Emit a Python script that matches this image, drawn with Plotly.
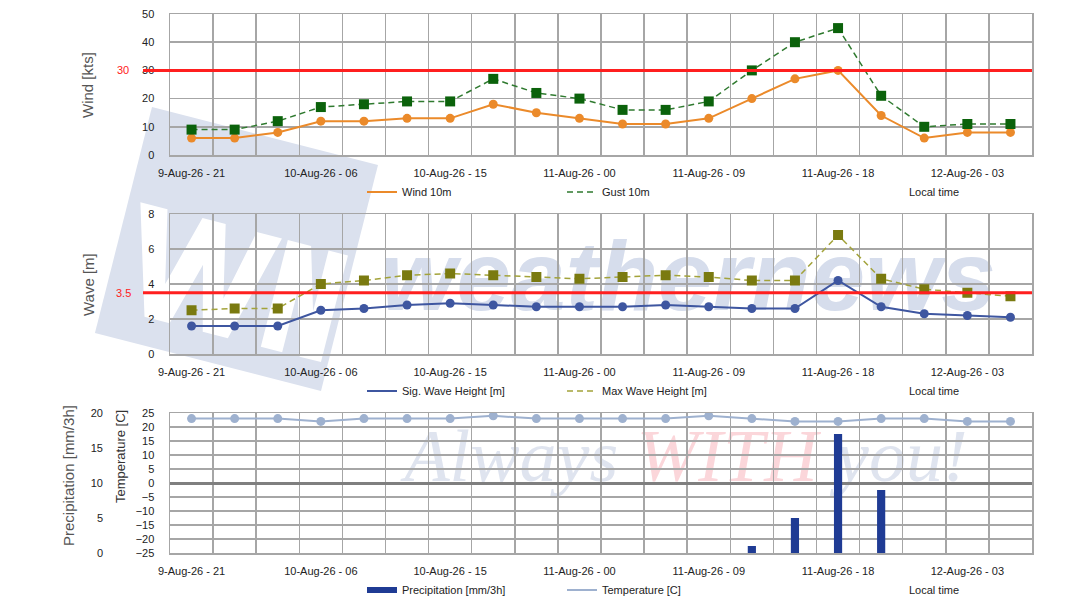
import plotly.graph_objects as go

# ---------------- data ----------------
times = ["9-Aug-26 - 21", "10-Aug-26 - 00", "10-Aug-26 - 03", "10-Aug-26 - 06",
         "10-Aug-26 - 09", "10-Aug-26 - 12", "10-Aug-26 - 15", "10-Aug-26 - 18",
         "10-Aug-26 - 21", "11-Aug-26 - 00", "11-Aug-26 - 03", "11-Aug-26 - 06",
         "11-Aug-26 - 09", "11-Aug-26 - 12", "11-Aug-26 - 15", "11-Aug-26 - 18",
         "11-Aug-26 - 21", "12-Aug-26 - 00", "12-Aug-26 - 03", "12-Aug-26 - 06"]
wind_10m = [6, 6, 8, 12, 12, 13, 13, 18, 15, 13, 11, 11, 13, 20, 27, 30, 14, 6, 8, 8]
gust_10m = [9, 9, 12, 17, 18, 19, 19, 27, 22, 20, 16, 16, 19, 30, 40, 45, 21, 10, 11, 11]
sig_wave = [1.6, 1.6, 1.6, 2.5, 2.6, 2.8, 2.9, 2.8, 2.7, 2.7, 2.7, 2.8, 2.7, 2.6, 2.6, 4.2, 2.7, 2.3, 2.2, 2.1]
max_wave = [2.5, 2.6, 2.6, 4.0, 4.2, 4.5, 4.6, 4.5, 4.4, 4.3, 4.4, 4.5, 4.4, 4.2, 4.2, 6.8, 4.3, 3.7, 3.5, 3.3]
precip = [0, 0, 0, 0, 0, 0, 0, 0, 0, 0, 0, 0, 0, 1, 5, 17, 9, 0, 0, 0]
temperature = [23, 23, 23, 22, 23, 23, 23, 24, 23, 23, 23, 23, 24, 23, 22, 22, 23, 23, 22, 22]
wind_limit = 30
wave_limit = 3.5
label_step = 3

idx = list(range(len(times)))
tickvals = idx[::label_step]
ticktext = [times[i] for i in tickvals]
bounds = [i - 0.5 for i in range(len(times) + 1)]

W, H = 1084, 609
FONT = "Liberation Sans, Arial, sans-serif"
GRID = "#a6a6a6"

def px(x):
    return x / W

def py(y):
    return 1 - y / H

fig = go.Figure()

# ---------------- watermark (decoration, drawn in the lowest subplot) ----------------
fig.add_trace(go.Scatter(x=[688], y=[285], mode="text", text=["weathernews"],
                         textfont=dict(family=FONT, size=98, color="#d6ddec",
                                       weight="bold", style="italic"),
                         xaxis="x", yaxis="y", showlegend=False, hoverinfo="skip"))
fig.add_trace(go.Scatter(x=[686], y=[462], mode="text",
                         text=["Always <span style='color:#fbd6da'>WITH</span> you!"],
                         textfont=dict(family="Liberation Serif, serif", size=74,
                                       color="#dfe4ef", style="italic"),
                         xaxis="x", yaxis="y", showlegend=False, hoverinfo="skip"))

# WN square logo as shapes
TL = (152, 107)
ux, uy = 0.970, 0.249
vx, vy = -0.245, 0.970

def loc(u, v):
    X = TL[0] + u * ux + v * vx
    Y = TL[1] + u * uy + v * vy
    return px(X), py(Y)

def path(pts):
    s = ""
    for k, (u, v) in enumerate(pts):
        X, Y = loc(u, v)
        s += ("M" if k == 0 else "L") + f"{X:.4f},{Y:.4f}"
    return s + "Z"

square = [(0, 0), (233, 0), (233, 233), (0, 233)]
w_letter = [(12, 95), (40, 95), (56, 168), (76, 95), (100, 95), (116, 168), (132, 95),
            (158, 95), (130, 205), (104, 205), (88, 140), (70, 205), (44, 205)]
n_letter = [(164, 95), (188, 95), (206, 158), (206, 95), (226, 95), (226, 205), (204, 205),
            (186, 142), (186, 205), (164, 205)]
shapes = [
    dict(type="path", path=path(square), xref="paper", yref="paper",
         fillcolor="#dbe1ee", line=dict(width=0), layer="below"),
    dict(type="path", path=path(w_letter), xref="paper", yref="paper",
         fillcolor="white", line=dict(width=0), layer="below"),
    dict(type="path", path=path(n_letter), xref="paper", yref="paper",
         fillcolor="white", line=dict(width=0), layer="below"),
]

# ---------------- panel 1: wind ----------------
fig.add_trace(go.Scatter(x=idx, y=wind_10m, mode="lines+markers", name="Wind 10m",
                         line=dict(color="#eb8a2a", width=2),
                         marker=dict(symbol="circle", size=9, color="#eb8a2a"),
                         xaxis="x2", yaxis="y2", showlegend=False))
fig.add_trace(go.Scatter(x=idx, y=gust_10m, mode="lines+markers", name="Gust 10m",
                         line=dict(color="#2f7a2f", width=1.5, dash="6px,4px"),
                         marker=dict(symbol="square", size=10, color="#0b620b"),
                         xaxis="x2", yaxis="y2", showlegend=False))

# ---------------- panel 2: wave ----------------
fig.add_trace(go.Scatter(x=idx, y=sig_wave, mode="lines+markers", name="Sig. Wave Height [m]",
                         line=dict(color="#3e56a0", width=2),
                         marker=dict(symbol="circle", size=9, color="#3e56a0"),
                         xaxis="x3", yaxis="y3", showlegend=False))
fig.add_trace(go.Scatter(x=idx, y=max_wave, mode="lines+markers", name="Max Wave Height [m]",
                         line=dict(color="#a3a33a", width=1.5, dash="6px,4px"),
                         marker=dict(symbol="square", size=10, color="#7a7a10"),
                         xaxis="x3", yaxis="y3", showlegend=False))

# ---------------- panel 3: temperature + precipitation ----------------
fig.add_trace(go.Scatter(x=idx, y=temperature, mode="lines+markers", name="Temperature [C]",
                         line=dict(color="#9eb1cf", width=2),
                         marker=dict(symbol="circle", size=9, color="#9eb1cf"),
                         xaxis="x4", yaxis="y4", showlegend=False))
fig.add_trace(go.Bar(x=idx, y=precip, name="Precipitation [mm/3h]", width=0.19,
                     marker=dict(color="#1f3b94", line=dict(width=0)),
                     xaxis="x4", yaxis="y5", showlegend=False))

# ---------------- legend entries ----------------
def leg(name, color, width, dash, legend, xa, ya):
    fig.add_trace(go.Scatter(x=[None], y=[None], mode="lines", name=name,
                             line=dict(color=color, width=width, dash=dash),
                             xaxis=xa, yaxis=ya, legend=legend, showlegend=True))

leg("Wind 10m", "#eb8a2a", 2, "solid", "legend", "x2", "y2")
leg("Gust 10m", "#2f7a2f", 1.5, "6px,4px", "legend", "x2", "y2")
leg("Sig. Wave Height [m]", "#3e56a0", 2, "solid", "legend2", "x3", "y3")
leg("Max Wave Height [m]", "#a3a33a", 1.5, "6px,4px", "legend2", "x3", "y3")
leg("Precipitation [mm/3h]", "#1f3b94", 6, "solid", "legend3", "x4", "y4")
leg("Temperature [C]", "#9eb1cf", 2, "solid", "legend3", "x4", "y4")

# ---------------- axes ----------------
XD = [px(170), px(1032)]
tickfont = dict(family=FONT, size=11, color="#222222")

def xaxis(anchor):
    return dict(domain=XD, anchor=anchor, range=[-0.5, len(times) - 0.5],
                tickmode="array", tickvals=tickvals, ticktext=ticktext,
                showgrid=False, zeroline=False, ticks="", ticklabelstandoff=7,
                showline=True, mirror=True, linecolor=GRID, linewidth=1.5,
                minor=dict(tickmode="array", tickvals=bounds, showgrid=True,
                           gridcolor=GRID, gridwidth=1.5, ticks=""),
                tickfont=tickfont, fixedrange=True)

def yaxis(anchor, dom, rng, dtick, **kw):
    d = dict(domain=dom, anchor=anchor, range=rng, dtick=dtick, tick0=rng[0],
             showgrid=True, gridcolor=GRID, gridwidth=1.5, zeroline=False,
             showline=True, mirror=True, linecolor=GRID, linewidth=1.5,
             ticks="", ticklabelstandoff=12, tickfont=tickfont, fixedrange=True)
    d.update(kw)
    return d

layout = dict(
    width=W, height=H, autosize=False,
    margin=dict(l=0, r=0, t=0, b=0, autoexpand=False),
    paper_bgcolor="white", plot_bgcolor="rgba(0,0,0,0)",
    font=dict(family=FONT, size=11, color="#222222"),
    xaxis=dict(domain=[0, 1], range=[0, W], visible=False, fixedrange=True),
    yaxis=dict(domain=[0, 1], range=[H, 0], visible=False, fixedrange=True),
    xaxis2=xaxis("y2"),
    yaxis2=yaxis("x2", [py(155), py(14)], [0, 50], 10),
    xaxis3=xaxis("y3"),
    yaxis3=yaxis("x3", [py(354), py(214)], [0, 8], 2),
    xaxis4=xaxis("y4"),
    yaxis4=yaxis("x4", [py(553), py(413)], [-25, 25], 5,
                 zeroline=True, zerolinecolor="#7f7f7f", zerolinewidth=3),
    yaxis5=dict(overlaying="y4", anchor="free", position=px(116), side="left",
                range=[0, 20], dtick=5, tick0=0, showgrid=False, zeroline=False,
                showline=False, ticks="", ticklabelstandoff=13, tickfont=tickfont,
                fixedrange=True),
    showlegend=True,
    shapes=shapes,
    barmode="overlay",
)

legend_common = dict(orientation="h", xanchor="left", yanchor="middle",
                     font=dict(family=FONT, size=11, color="#222222"),
                     bgcolor="rgba(0,0,0,0)", borderwidth=0,
                     entrywidth=155, entrywidthmode="pixels", traceorder="normal")
layout["legend"] = dict(x=px(362), y=py(192), **legend_common)
layout["legend2"] = dict(x=px(362), y=py(391), **legend_common)
layout["legend3"] = dict(x=px(362), y=py(590), **legend_common)

# threshold lines
shapes.append(dict(type="line", xref="paper", yref="y2", x0=px(143), x1=XD[1],
                   y0=wind_limit, y1=wind_limit, line=dict(color="#ff1f1f", width=3)))
shapes.append(dict(type="line", xref="paper", yref="y3", x0=px(143), x1=XD[1],
                   y0=wave_limit, y1=wave_limit, line=dict(color="#ff1f1f", width=3)))

red_font = dict(family=FONT, size=11, color="#ff2020")
title_font = dict(family=FONT, size=15, color="#555555")

def ann(text, x, y, font, yref="paper", angle=0, xanchor="center"):
    return dict(text=text, x=x, y=y, xref="paper", yref=yref, xanchor=xanchor,
                yanchor="middle", showarrow=False, textangle=angle, font=font)

annotations = [
    ann(str(wind_limit), px(123), wind_limit, red_font, yref="y2"),
    ann(str(wave_limit), px(123), wave_limit, red_font, yref="y3"),
    ann("Wind [kts]", px(88), py(85), title_font, angle=-90),
    ann("Wave [m]", px(88), py(285), title_font, angle=-90),
    ann("Precipitation [mm/3h]", px(68), py(476), title_font, angle=-90),
    ann("Temperature [C]", px(120), py(457), dict(family=FONT, size=13, color="#333333"),
        angle=-90),
]
for yy in (192, 391, 590):
    annotations.append(ann("Local time", px(907), py(yy),
                           dict(family=FONT, size=11, color="#222222"), xanchor="left"))
layout["annotations"] = annotations

fig.update_layout(**layout)

fig.write_html("out.html", config={"displayModeBar": False, "staticPlot": True},
               post_script="document.body.style.margin='0';")
